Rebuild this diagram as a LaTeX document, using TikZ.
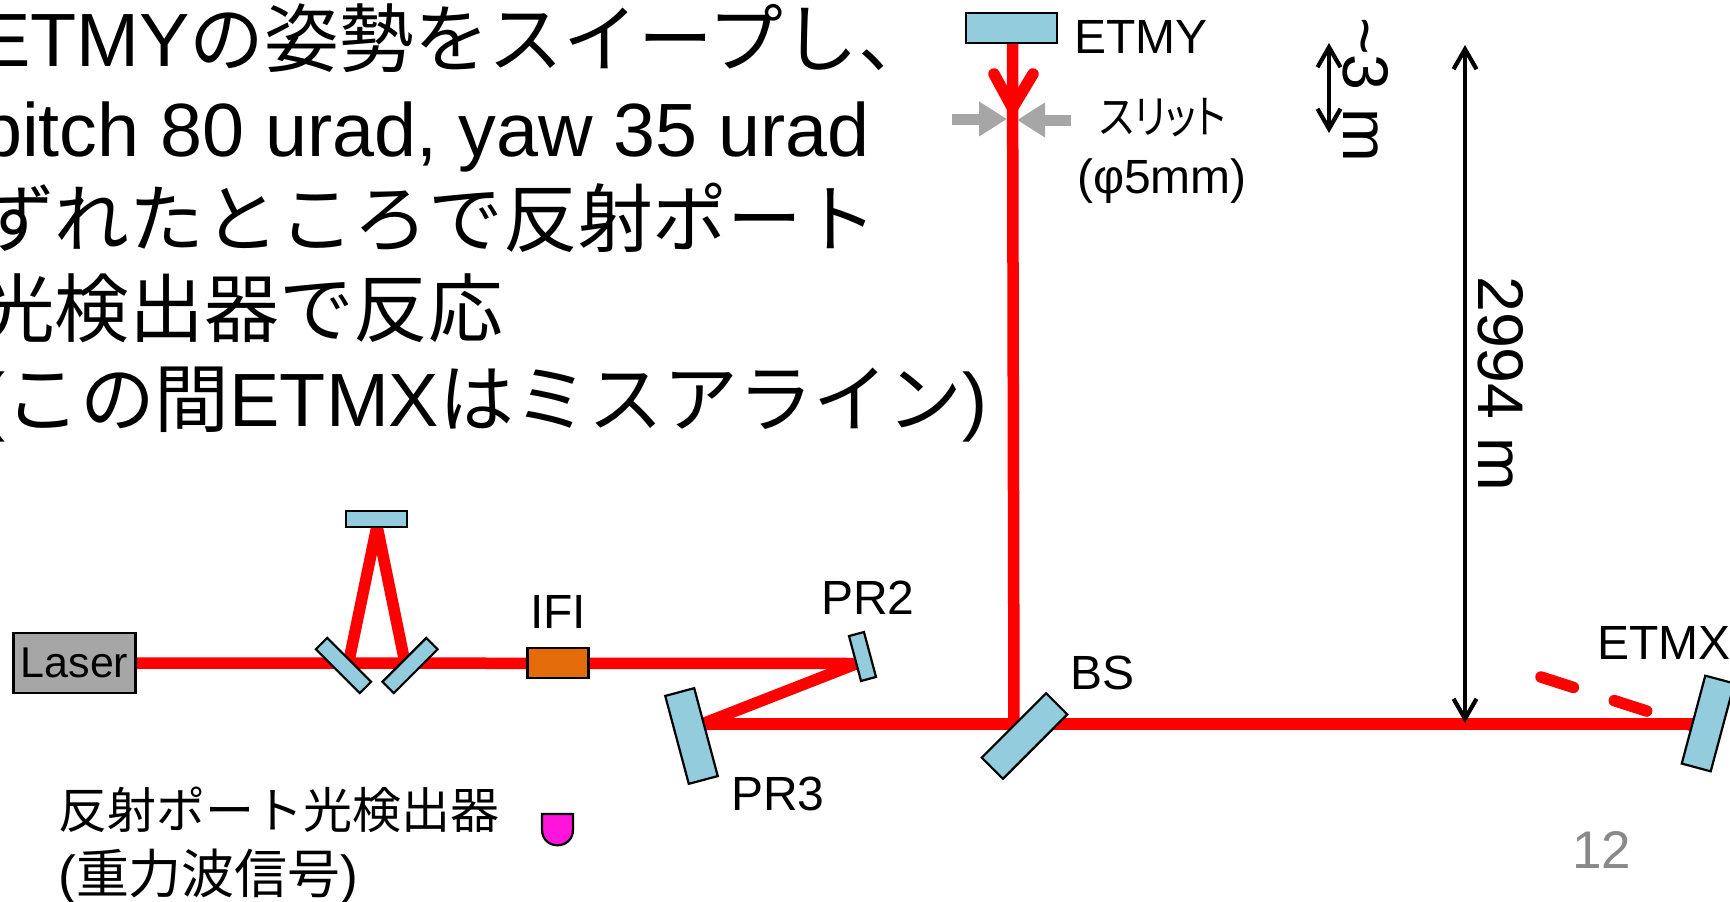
\documentclass[tikz,border=0pt]{standalone}
\usepackage{fontspec}
\setmainfont{Liberation Sans}
\newfontfamily\jpfont[Scale=0.99]{Noto Sans CJK JP}
\newfontfamily\jppfont[Scale=0.99,RawFeature=+palt]{Noto Sans CJK JP}
\newcommand{\jp}[1]{{\jpfont #1}}
\usetikzlibrary{arrows.meta,backgrounds}
\definecolor{mirrorblue}{HTML}{93CDDD}
\definecolor{slitgray}{HTML}{A6A6A6}
\definecolor{ifiorange}{HTML}{E46C0A}
\definecolor{pagegray}{HTML}{898989}
\definecolor{pdmagenta}{HTML}{FF14DC}
\tikzset{
  mirror/.style={draw=black, line width=2.2pt, fill=mirrorblue, inner sep=0pt, minimum width=#1},
  beam/.style={red, line width=11.5pt},
  slit/.style={slitgray, line width=11pt, -{Triangle[length=28pt,width=33pt]}},
  dimline/.style={black, line width=4.2pt, {Straight Barb[length=20pt,width=23pt]}-{Straight Barb[length=20pt,width=23pt]}},
  lbl/.style={inner sep=0pt, anchor=base west, font=\fontsize{48}{48}\selectfont},
  rotlbl/.style={inner sep=0pt, anchor=base west, rotate=-90, font=\fontsize{64.5}{64.5}\selectfont}
}
\begin{document}
\begin{tikzpicture}[x=1pt,y=-1pt]
  \useasboundingbox (0,0) rectangle (1730,902);

  \node (sweeptext) [inner sep=0pt, anchor=north west, align=left, font=\fontsize{75.5}{90}\selectfont] at (-20,4)
    {ETMY\jp{の姿勢をスイープし、}\\
     pitch 80 urad, yaw 35 urad\\
     \jp{ずれたところで反射ポート}\\
     \jp{光検出器で反応}\\
     (\jp{この間}ETMX\jp{はミスアライン})};

  % mirrors and boxes
  \node (etmy) [mirror=91pt, minimum height=30pt] at (1011.5,28) {};
  \node (mctop) [mirror=61pt, minimum height=16pt] at (376.5,519) {};
  \node (mcl) [mirror=62pt, minimum height=16pt, rotate=-45] at (343.5,665.5) {};
  \node (mcr) [mirror=62pt, minimum height=16pt, rotate=45] at (410,665.5) {};
  \node (pr2) [mirror=46.5pt, minimum height=15.5pt, rotate=-75] at (862.5,656.5) {};
  \node (pr3) [mirror=91pt, minimum height=30pt, rotate=-75] at (691.5,736) {};
  \node (bs) [mirror=91pt, minimum height=30pt, rotate=45] at (1024.5,736) {};
  \node (etmx) [mirror=91pt, minimum height=30pt, rotate=75] at (1708,723.5) {};
  \node (laser) [draw=black, line width=2.2pt, fill=slitgray, inner sep=0pt, minimum width=122pt, minimum height=60pt, font=\fontsize{43}{43}\selectfont] at (74.5,663) {Laser};
  \node (ifi) [draw=black, line width=2.2pt, fill=ifiorange, inner sep=0pt, minimum width=61pt, minimum height=30pt] at (558,663) {};

  \coordinate (mctophit) at (377,526);
  \coordinate (mclhit) at (348.5,663);
  \coordinate (mcrhit) at (405,663);
  \coordinate (pr2hit) at (857,663.5);
  \coordinate (pr3hit) at (702,724);
  \coordinate (bshit) at (1014,723);
  \coordinate (etmxhit) at (1708,724);
  \coordinate (etmytop) at (1012.5,40);
  \coordinate (sliptip) at (1012.5,108);
  \coordinate (barbl) at (994,74);
  \coordinate (barbr) at (1033,74);
  \coordinate (tiltstart) at (1541,677);
  \coordinate (tiltend) at (1690,725);

  \begin{scope}[on background layer]
    \draw [beam] (laser.east) -- (pr2hit);
    \draw [beam] (pr2hit) -- (pr3hit);
    \draw [beam] (702,724) -- (etmxhit);
    \draw [beam] (etmytop) -- (bshit);
    \draw [beam] (mclhit) -- (mctophit);
    \draw [beam] (mcrhit) -- (mctophit);
    \draw [beam, line cap=round, line join=round] (barbl) -- (sliptip) -- (barbr);
    \draw [beam, line cap=round, dash pattern=on 34pt off 43pt] (tiltstart) -- (tiltend);
  \end{scope}

  % slit
  \coordinate (slitl) at (952,119);
  \coordinate (slitlt) at (1007,119);
  \coordinate (slitr) at (1071,120);
  \coordinate (slitrt) at (1017,120);
  \draw [slit] (slitl) -- (slitlt);
  \draw [slit] (slitr) -- (slitrt);

  % lengths
  \coordinate (shortup) at (1329,43);
  \coordinate (shortdown) at (1329,133);
  \coordinate (longup) at (1465,45);
  \coordinate (longdown) at (1465,723);
  \draw [dimline] (shortup) -- (shortdown);
  \draw [dimline] (longup) -- (longdown);

  \node (etmylabel) [lbl] at (1074,53) {ETMY};
  \node (slitlabel) [inner sep=0pt, anchor=base, font=\fontsize{46}{46}\selectfont] at (1163,133) {\scalebox{.85}[1]{\jppfont スリット}};
  \node (slitsize) [lbl] at (1077,193) {(φ5mm)};
  \node (shortlabel) [rotlbl] at (1343,17) {\~{}3 m};
  \node (longlabel) [rotlbl] at (1478,276) {2994 m};
  \node (ifilabel) [lbl, anchor=base] at (558,628) {IFI};
  \node (pr2label) [lbl] at (821,614) {PR2};
  \node (pr3label) [lbl] at (731,810) {PR3};
  \node (bslabel) [lbl] at (1070,689) {BS};
  \node (etmxlabel) [lbl] at (1597,659) {ETMX};
  \node (pagenum) [lbl, text=pagegray, font=\fontsize{53}{53}\selectfont] at (1572,868) {12};
  \node (pdlabel) [inner sep=0pt, anchor=north west, align=left, font=\fontsize{49.5}{65}\selectfont] at (58,787)
    {\jp{反射ポート光検出器}\\{\fontsize{53.5}{65}\selectfont (\jp{重力波信号})}};

  % detector
  \draw [black, line width=2.2pt, fill=pdmagenta] (542,814) -- (573,814) -- (573,829.5) .. controls (573,850.5) and (542,850.5) .. (542,829.5) -- cycle;
\end{tikzpicture}
\end{document}
